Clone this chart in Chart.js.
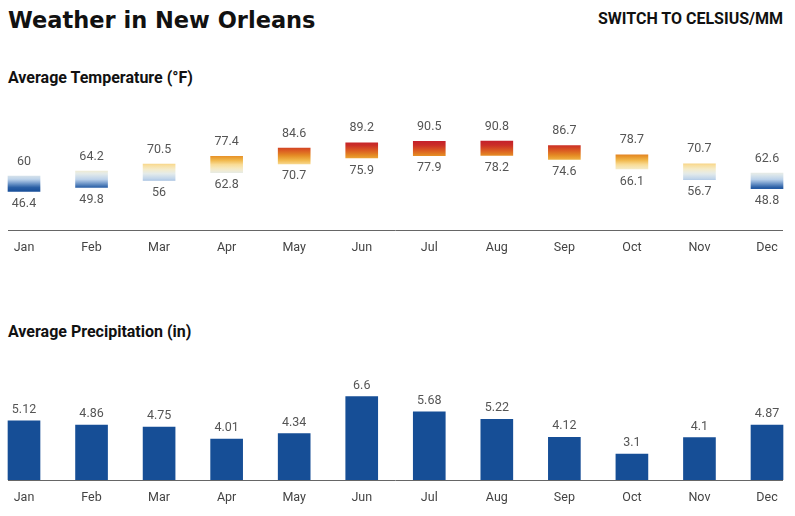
<!DOCTYPE html>
<html>
<head>
<meta charset="utf-8">
<script src="https://cdn.jsdelivr.net/npm/chart.js@4"></script>
<style>
  html, body { margin: 0; padding: 0; background: #fff; }
  body { width: 795px; height: 516px; position: relative; overflow: hidden; }
  .title { position: absolute; left: 8px; top: 6px; font-family: "DejaVu Sans", sans-serif; font-weight: bold; font-size: 22.5px; line-height: 28px; color: #111; white-space: nowrap; }
  .switch { position: absolute; right: 12px; top: 9px; font-family: Roboto, sans-serif; font-weight: bold; font-size: 16px; line-height: 20px; color: #111; white-space: nowrap; }
  .sub { position: absolute; left: 8px; font-family: Roboto, sans-serif; font-weight: bold; font-size: 16px; line-height: 20px; color: #111; white-space: nowrap; }
  .cv { position: absolute; left: 0; }
</style>
</head>
<body>
<div class="title">Weather in New Orleans</div>
<div class="switch">SWITCH TO CELSIUS/MM</div>
<div class="sub" style="top:67.5px">Average Temperature (°F)</div>
<div class="sub" style="top:322px">Average Precipitation (in)</div>
<canvas id="temp" class="cv" width="795" height="160" style="top:100px"></canvas>
<canvas id="prec" class="cv" width="795" height="150" style="top:360px"></canvas>
<script>
const months = ["Jan","Feb","Mar","Apr","May","Jun","Jul","Aug","Sep","Oct","Nov","Dec"];
const tempHigh = [60, 64.2, 70.5, 77.4, 84.6, 89.2, 90.5, 90.8, 86.7, 78.7, 70.7, 62.6];
const tempLow  = [46.4, 49.8, 56, 62.8, 70.7, 75.9, 77.9, 78.2, 74.6, 66.1, 56.7, 48.8];
const precip   = [5.12, 4.86, 4.75, 4.01, 4.34, 6.6, 5.68, 5.22, 4.12, 3.1, 4.1, 4.87];

// colour scale used for the temperature gradients (style)
const tempScale = [[44,'#0b4290'],[50,'#2b60a6'],[54,'#7fa3d0'],[57,'#bcd2ea'],[62,'#e4ebea'],[66,'#f5ebc8'],[70,'#f9dc96'],[74,'#f0b648'],[78,'#e58c24'],[83,'#d95522'],[87,'#cb2e27'],[92,'#c21b2c']];
function hex2rgb(h){return [parseInt(h.slice(1,3),16),parseInt(h.slice(3,5),16),parseInt(h.slice(5,7),16)];}
function colorAt(v){
  if (v <= tempScale[0][0]) return tempScale[0][1];
  for (let k=1;k<tempScale.length;k++){
    if (v <= tempScale[k][0]) {
      const [a,ca]=tempScale[k-1],[b,cb]=tempScale[k];
      const t=(v-a)/(b-a), A=hex2rgb(ca), B=hex2rgb(cb);
      return 'rgb('+A.map((x,j)=>Math.round(x+(B[j]-x)*t)).join(',')+')';
    }
  }
  return tempScale[tempScale.length-1][1];
}

const FONT = 'Roboto, sans-serif';
const axisLine = {
  id: 'axisLine',
  afterDraw(chart){
    const {ctx, chartArea} = chart;
    ctx.save();
    ctx.strokeStyle = '#666';
    ctx.lineWidth = 1;
    ctx.beginPath();
    ctx.moveTo(chartArea.left - 16, Math.round(chartArea.bottom) + 0.5);
    ctx.lineTo(chartArea.right + 16, Math.round(chartArea.bottom) + 0.5);
    ctx.stroke();
    ctx.restore();
  }
};
function valueLabels(fmtTop, fmtBottom, upGap, downGap){
  return {
    id: 'valueLabels',
    afterDatasetsDraw(chart){
      const {ctx} = chart;
      const meta = chart.getDatasetMeta(0);
      ctx.save();
      ctx.font = '12.5px ' + FONT;
      ctx.fillStyle = '#555';
      ctx.textAlign = 'center';
      ctx.textBaseline = 'middle';
      meta.data.forEach((el, i) => {
        const top = Math.min(el.y, el.base), bot = Math.max(el.y, el.base);
        ctx.fillText(fmtTop(i), el.x, top - upGap);
        if (fmtBottom) ctx.fillText(fmtBottom(i), el.x, bot + downGap);
      });
      ctx.restore();
    }
  };
}
function makeXAxis(){
  return {
    type: 'category',
    offset: false,
    grid: { display: false, drawTicks: false },
    border: { display: false },
    ticks: { color: '#444', font: { family: FONT, size: 12.5 }, padding: 10, autoSkip: false, maxRotation: 0 },
    afterFit(scale){ scale.height = 30; }
  };
}

new Chart(document.getElementById('temp'), {
  type: 'bar',
  data: {
    labels: months,
    datasets: [{
      data: months.map((m,i) => [tempLow[i], tempHigh[i]]),
      barThickness: 32,
      clip: false,
      borderWidth: 0,
      backgroundColor: (c) => {
        const chart = c.chart;
        if (!chart.chartArea || c.type !== 'data') return '#ccc';
        const i = c.dataIndex, y = chart.scales.y;
        const hi = tempHigh[i], lo = tempLow[i];
        const g = chart.ctx.createLinearGradient(0, y.getPixelForValue(hi), 0, y.getPixelForValue(lo));
        const N = 12;
        for (let k=0;k<=N;k++){ const t=k/N; g.addColorStop(t, colorAt(hi + (lo-hi)*t)); }
        return g;
      }
    }]
  },
  options: {
    responsive: false,
    animation: false,
    layout: { padding: { left: 24, right: 28, top: 10, bottom: 0 } },
    plugins: { legend: { display: false }, tooltip: { enabled: false } },
    scales: {
      x: makeXAxis(),
      y: { display: false, min: 12.4, max: 118.1 }
    }
  },
  plugins: [axisLine, valueLabels(i => String(tempHigh[i]), i => String(tempLow[i]), 14.5, 12.5)]
});

new Chart(document.getElementById('prec'), {
  type: 'bar',
  data: {
    labels: months,
    datasets: [{
      data: precip,
      barThickness: 32,
      clip: { left: 20, right: 20, top: 40, bottom: 0 },
      borderWidth: 0,
      backgroundColor: '#164e96'
    }]
  },
  options: {
    responsive: false,
    animation: false,
    layout: { padding: { left: 24, right: 28, top: 10, bottom: 0 } },
    plugins: { legend: { display: false }, tooltip: { enabled: false } },
    scales: {
      x: makeXAxis(),
      y: { display: false, min: 1.51, max: 8.23 }
    }
  },
  plugins: [axisLine, valueLabels(i => String(precip[i]), null, 11, 0)]
});
</script>
</body>
</html>
